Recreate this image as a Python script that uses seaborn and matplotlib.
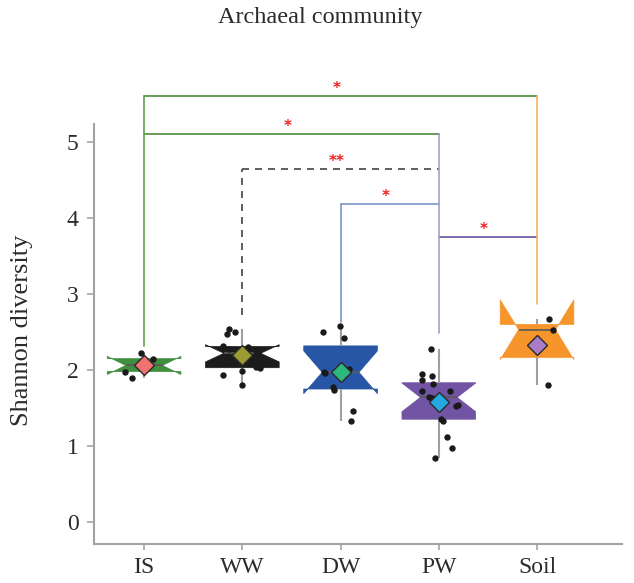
import numpy as np
import pandas as pd
import matplotlib
matplotlib.use("Agg")
import matplotlib.pyplot as plt
import seaborn as sns

# Shannon diversity of the archaeal community per sample type
groups = ["IS", "WW", "DW", "PW", "Soil"]
is_vals = [1.89, 1.98, 2.06, 2.15, 2.22]
ww_vals = [1.80, 1.94, 1.99, 2.02, 2.04, 2.10, 2.17, 2.22, 2.25, 2.28,
           2.30, 2.32, 2.47, 2.50, 2.54]
dw_vals = [1.33, 1.46, 1.74, 1.78, 1.96, 1.98, 2.01, 2.42, 2.50, 2.58]
pw_vals = [0.84, 0.97, 1.12, 1.33, 1.36, 1.52, 1.54, 1.63, 1.65, 1.72,
           1.73, 1.82, 1.87, 1.92, 1.95, 2.28]
soil_vals = [1.80, 2.53, 2.67]
y_ticks = [0, 1, 2, 3, 4, 5]

# pairwise comparisons and their significance marks
comparisons = [("IS", "Soil"), ("IS", "PW"), ("WW", "PW"), ("DW", "PW"), ("PW", "Soil")]
sig_labels = ["*", "*", "**", "*", "*"]

# styling
box_colors = ["#3f8f3f", "#1c1c1c", "#2756a6", "#7154a4", "#f7952d"]
mean_colors = ["#f07272", "#9c9c32", "#2db77c", "#26a8e0", "#a87cc6"]
bracket_heights = [5.61, 5.105, 4.645, 4.19, 3.746]
bracket_colors = ["#4b8b3b", "#4b8b3b", "#444444", "#7b96c8", "#6650a0"]
bracket_styles = ["-", "-", (0, (4.2, 3.6)), "-", "-"]
leg_colors = {"IS": "#5f9e52", "WW": "#444444", "DW": "#7b96c8",
              "PW": "#a99ccc", "Soil": "#f6b26b"}
leg_styles = {"IS": "-", "WW": (0, (4.2, 3.6)), "DW": "-", "PW": "-", "Soil": "-"}
leg_bottoms = {"IS": 2.32, "WW": 2.72, "DW": 2.63, "PW": 2.49, "Soil": 2.87}

sns.set_theme(style="white")
plt.rcParams["font.family"] = ["Liberation Serif", "DejaVu Serif"]

df = pd.DataFrame({
    "group": (["IS"] * len(is_vals) + ["WW"] * len(ww_vals) + ["DW"] * len(dw_vals)
              + ["PW"] * len(pw_vals) + ["Soil"] * len(soil_vals)),
    "value": is_vals + ww_vals + dw_vals + pw_vals + soil_vals,
})

fig = plt.figure(figsize=(6.34, 5.83), dpi=100)
ax = fig.add_axes([94 / 634, 39.4 / 583, 528 / 634, 483.6 / 583])

sns.boxplot(data=df, x="group", y="value", hue="group", order=groups,
            hue_order=groups, palette=box_colors, saturation=1, notch=True,
            width=0.75, showcaps=False, showfliers=False, whis=1.5,
            linecolor="#a0a0a0", linewidth=1.5, legend=False, ax=ax,
            medianprops=dict(color="#5a5a5a", linewidth=1.2))
for patch in ax.patches:
    patch.set_edgecolor(patch.get_facecolor())
    patch.set_linewidth(0.5)

np.random.seed(11)
sns.stripplot(data=df, x="group", y="value", order=groups, color="#1a1a1a",
              size=4.6, jitter=0.2, linewidth=0, ax=ax, zorder=3)

sns.pointplot(data=df, x="group", y="value", hue="group", order=groups,
              hue_order=groups, palette=mean_colors, estimator="mean",
              errorbar=None, markers="D", linestyles="none", legend=False,
              dodge=False, ax=ax)
for line in ax.lines:
    if line.get_marker() == "D":
        line.set_markersize(10.5)
        line.set_markeredgecolor("#2a2a2a")
        line.set_markeredgewidth(1.0)
        line.set_zorder(5)

# significance brackets
pos = {g: i for i, g in enumerate(groups)}
for (a, b), h, c, ls, lab in zip(comparisons, bracket_heights, bracket_colors,
                                 bracket_styles, sig_labels):
    ax.plot([pos[a], pos[b]], [h, h], color=c, lw=1.2, ls=ls, zorder=2)
    mid = (pos[a] + pos[b]) / 2 - 0.04
    ax.text(mid, h + 0.04, lab, ha="center", va="baseline", color="#ee2020",
            fontsize=11, fontweight="bold", family="DejaVu Sans", zorder=6)

for g in groups:
    tops = [h for (a, b), h in zip(comparisons, bracket_heights) if g in (a, b)]
    ax.plot([pos[g], pos[g]], [leg_bottoms[g], max(tops)], color=leg_colors[g],
            lw=1.2, ls=leg_styles[g], zorder=2)

ax.set_xlim(-0.51, 4.865)
ax.set_ylim(-0.284, 6.079)
ax.set_yticks(y_ticks)
ax.set_xlabel("")
ax.set_ylabel("")
for side in ("top", "right"):
    ax.spines[side].set_visible(False)
for side in ("left", "bottom"):
    ax.spines[side].set_color("#a3a3a3")
    ax.spines[side].set_linewidth(1.5)
ax.spines["left"].set_bounds(-0.284, 5.237)
ax.tick_params(axis="y", length=5, width=1.2, color="#a3a3a3", pad=6,
               labelsize=17, labelcolor="#2b2b2b", left=True)
ax.tick_params(axis="x", length=4, width=1.2, color="#a3a3a3", pad=6,
               labelsize=17, labelcolor="#2b2b2b", bottom=True)

fig.text(320 / 634, 1 - 18 / 583, "Archaeal community", ha="center", va="center",
         fontsize=17.5, color="#2b2b2b")
fig.text(22 / 634, 1 - 330 / 583, "Shannon diversity", ha="center", va="center",
         rotation=90, fontsize=19, color="#2b2b2b")

fig.savefig("out.png", dpi=100)
